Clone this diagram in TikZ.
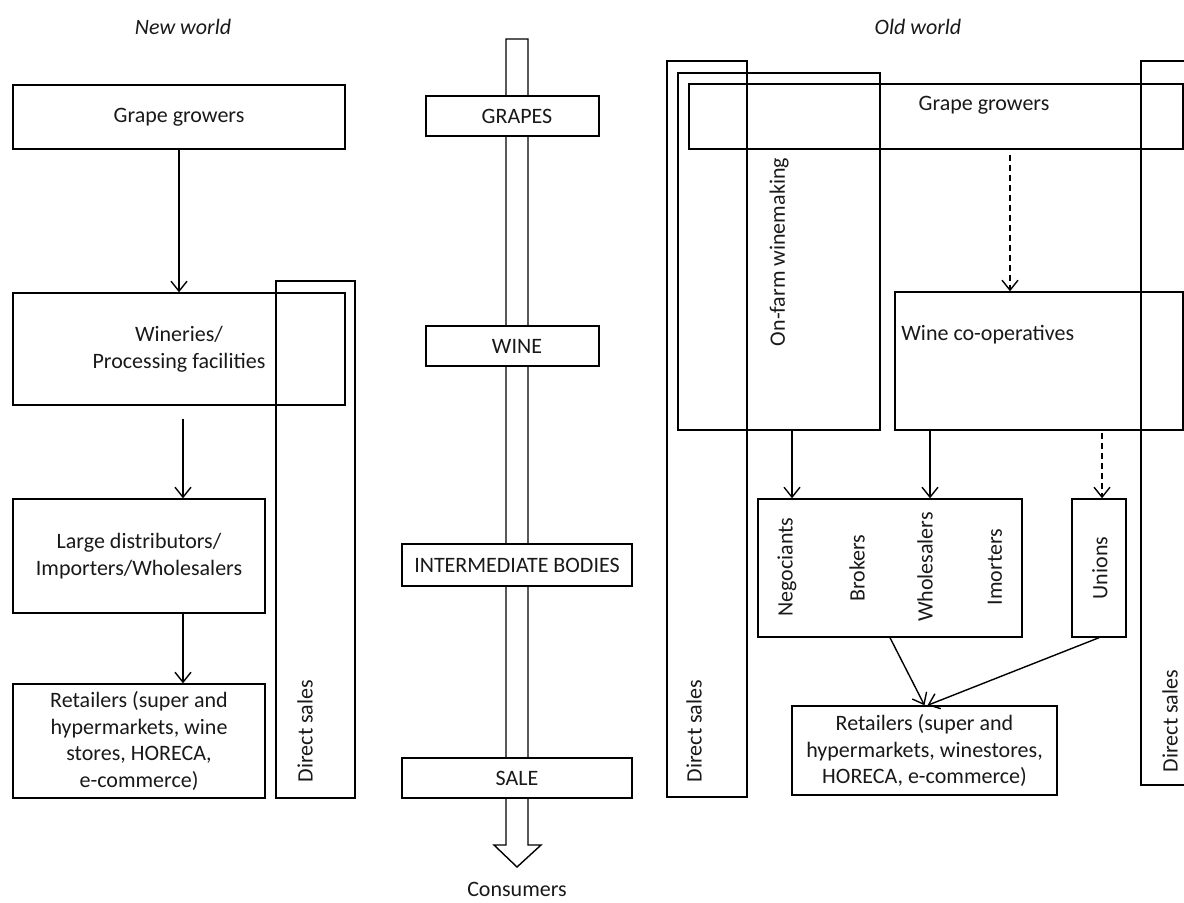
\documentclass[tikz,border=0pt]{standalone}
\usepackage{fontspec}
\setmainfont{Carlito}
\usetikzlibrary{arrows.meta}
\newcommand\myfs{\fontsize{11pt}{13.4pt}\selectfont}
\begin{document}
\begin{tikzpicture}[x=0.5pt,y=-0.5pt,
  box/.style={draw, line width=0.7pt, inner sep=0pt, font=\myfs, align=center, text=black!90},
  cbox/.style={box, fill=white},
  lbl/.style={inner sep=0pt, font=\myfs, align=center, text=black!90},
  vlbl/.style={lbl, rotate=90},
  arr/.style={line width=0.7pt, -{Straight Barb[length=5pt,width=8pt]}},
  darr/.style={arr, dash pattern=on 3pt off 2pt}]
\useasboundingbox (0,0) rectangle (1184,902);

% ---------------- New world ----------------
\node[lbl, font=\myfs\itshape] (nwt) at (183,27) {New world};
\node[box, minimum width=166pt, minimum height=32pt] (ngg) at (179,117) {Grape growers};
\node[box, minimum width=166pt, minimum height=56pt] (nwin) at (179,349) {Wineries/\\Processing facilities};
\node[box, minimum width=39.5pt, minimum height=258.5pt] (nds) at (315.5,539.5) {};
\node[vlbl] (ndst) at (305,731) {Direct sales};
\node[box, minimum width=126pt, minimum height=57pt] (nld) at (139,556) {Large distributors/\\Importers/Wholesalers};
\node[box, minimum width=126pt, minimum height=57pt] (nret) at (139,741) {Retailers (super and\\hypermarkets, wine\\stores, HORECA,\\e-commerce)};

\coordinate (xn) at (183,0);
\draw[arr] (ngg) -- (nwin);
\draw[arr, shorten <=6.5pt] (nwin.south -| xn) -- (nld.north -| xn);
\draw[arr] (nld.south -| xn) -- (nret.north -| xn);

% ---------------- Centre ----------------
\draw[line width=0.7pt] (506,39) -- (528,39) -- (528,845) -- (541,845) -- (517,867) -- (494,845) -- (506,845) -- cycle;
\node[cbox, minimum width=86.5pt, minimum height=20pt] (cg) at (512.5,116) {\hspace*{4.5pt}GRAPES};
\node[cbox, minimum width=86.5pt, minimum height=20pt] (cw) at (512.5,346) {\hspace*{4.5pt}WINE};
\node[cbox, minimum width=115pt, minimum height=21pt] (ci) at (517,565) {INTERMEDIATE BODIES};
\node[cbox, minimum width=115pt, minimum height=20pt] (cs) at (517,778) {SALE};
\node[lbl] (cons) at (517,889) {Consumers};

% ---------------- Old world ----------------
\node[lbl, font=\myfs\itshape] (owt) at (918,27) {Old world};
\node[box, minimum width=40pt, minimum height=368pt] (ods1) at (707,429) {};
\node[box, minimum width=101pt, minimum height=178.5pt] (onf) at (779,251.5) {};
\node[box, minimum width=247pt, minimum height=32.5pt] (ogg) at (936,116.5) {};
\node[box, minimum width=29.5pt, minimum height=362pt] (ods2) at (1170.5,423) {};
\node[box, minimum width=144pt, minimum height=69pt] (wco) at (1039,361) {};
\node[box, minimum width=132pt, minimum height=69pt] (neg) at (890,568) {};
\node[box, minimum width=27pt, minimum height=69pt] (uni) at (1099,568) {};
\node[box, minimum width=132.5pt, minimum height=44.5pt] (oret) at (924.5,750.5) {Retailers (super and\\hypermarkets, winestores,\\HORECA, e-commerce)};

\node[lbl] (oggt) at (984,105) {Grape growers};
\node[vlbl] (onft) at (779,252) {On-farm winemaking};
\node[lbl, anchor=west] (wcot) at (901,335) {Wine co-operatives};
\node[vlbl] (negt1) at (787,567) {Negociants};
\node[vlbl] (negt2) at (857,568) {Brokers};
\node[vlbl] (negt3) at (925,567) {Wholesalers};
\node[vlbl] (negt4) at (995,567) {Imorters};
\node[vlbl] (unit) at (1100,568) {Unions};
\node[vlbl] (ods1t) at (694,731) {Direct sales};
\node[vlbl] (ods2t) at (1170,721) {Direct sales};

\coordinate (xa) at (792,0);
\coordinate (xb) at (930,0);
\coordinate (xc) at (1102,0);
\coordinate (xd) at (1010,0);
\draw[darr, shorten <=2.5pt] (ogg.south -| xd) -- (wco.north -| xd);
\draw[arr] (onf.south -| xa) -- (neg.north -| xa);
\draw[arr] (wco.south -| xb) -- (neg.north -| xb);
\draw[darr, shorten <=1pt] (wco.south -| xc) -- (uni.north -| xc);
\draw[arr] (neg.south) -- (oret.north);
\draw[arr] (uni.south) -- ([xshift=1.5pt]oret.north);
\end{tikzpicture}
\end{document}
